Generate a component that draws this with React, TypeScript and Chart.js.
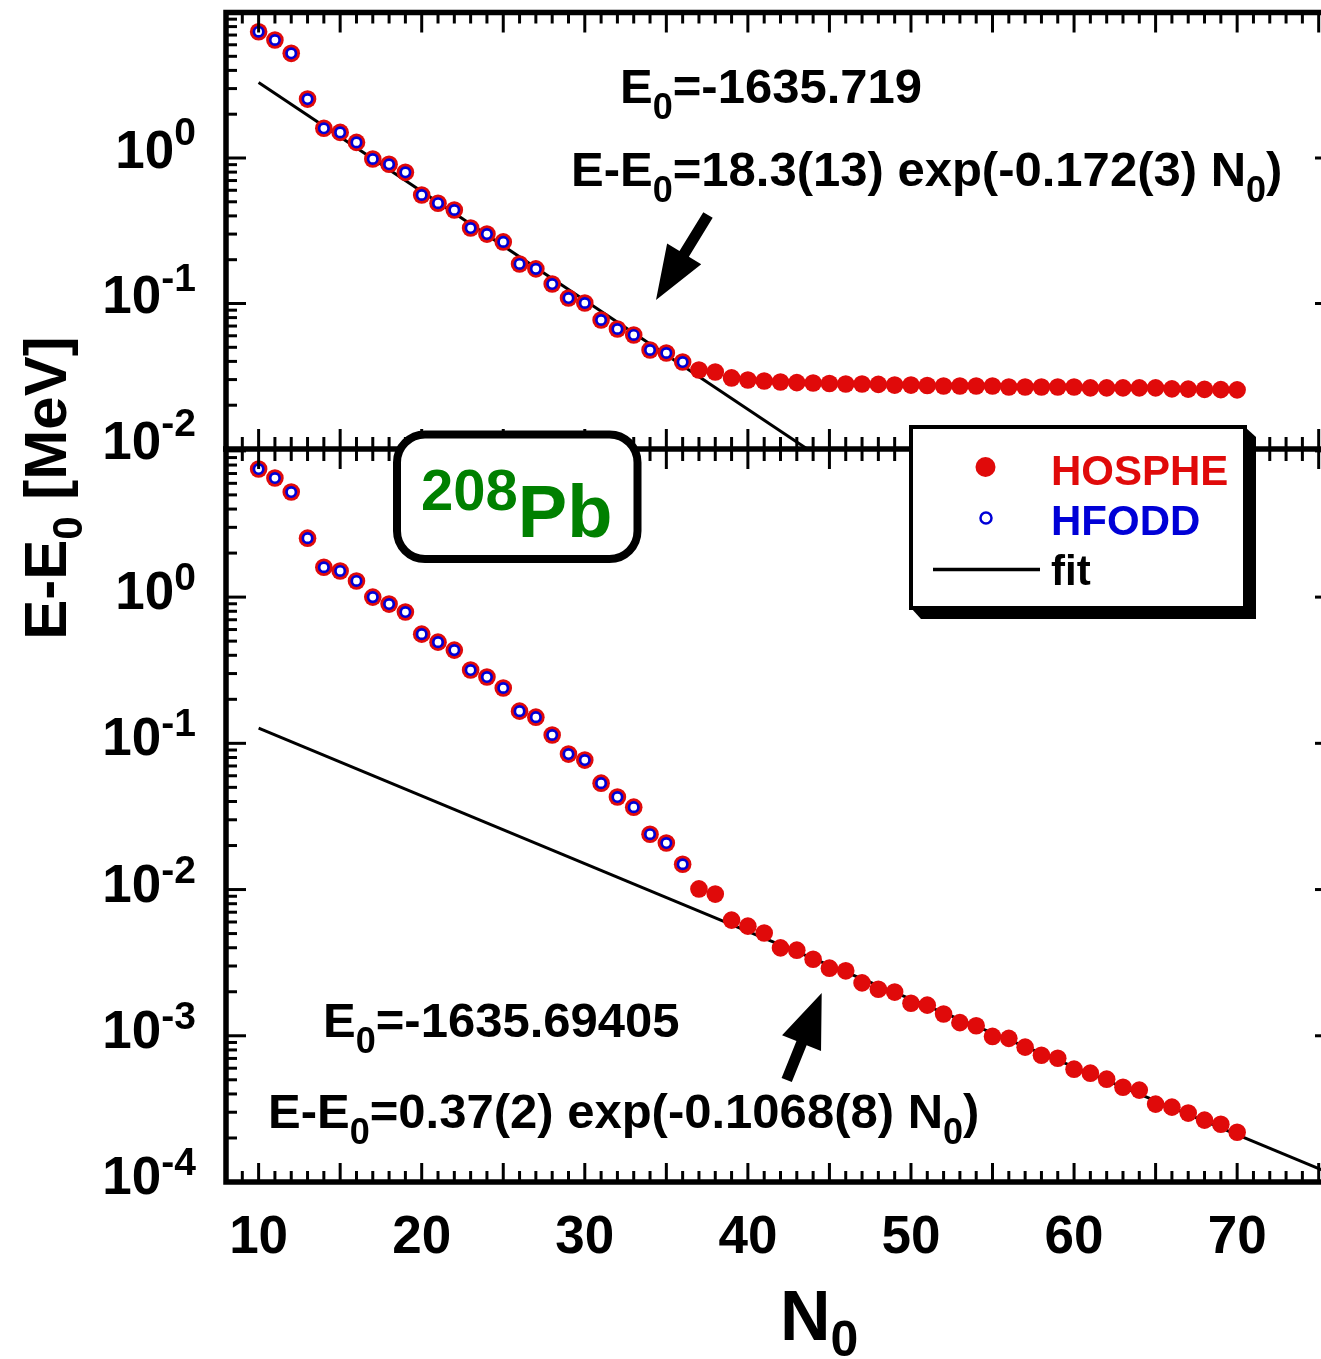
import React, { useEffect, useRef } from 'react';
import { Chart, registerables } from 'chart.js';

Chart.register(...registerables);

// ---------------- data ----------------
const N_HOSPHE = [
  10, 11, 12, 13, 14, 15, 16, 17, 18, 19, 20, 21, 22, 23, 24, 25, 26, 27, 28, 29, 30,
  31, 32, 33, 34, 35, 36, 37, 38, 39, 40, 41, 42, 43, 44, 45, 46, 47, 48, 49, 50,
  51, 52, 53, 54, 55, 56, 57, 58, 59, 60, 61, 62, 63, 64, 65, 66, 67, 68, 69, 70,
];
const N_HFODD = [
  10, 11, 12, 13, 14, 15, 16, 17, 18, 19, 20, 21, 22, 23, 24, 25, 26, 27, 28, 29, 30,
  31, 32, 33, 34, 35, 36,
];

// upper panel (E0 = -1635.719)
const TOP_HOSPHE = [
  7.38, 6.47, 5.24, 2.54, 1.60, 1.50, 1.28, 0.984, 0.905, 0.797, 0.557,
  0.489, 0.439, 0.330, 0.300, 0.265, 0.187, 0.173, 0.136, 0.109, 0.1008,
  0.0770, 0.0668, 0.0608, 0.0479, 0.0457, 0.0396, 0.0349, 0.0338, 0.0308, 0.0298,
  0.0293, 0.0289, 0.0286, 0.0284, 0.0282, 0.0280, 0.0280, 0.0278, 0.0275, 0.0275,
  0.0273, 0.0271, 0.0271, 0.0271, 0.0271, 0.0267, 0.0267, 0.0267, 0.0267, 0.0267,
  0.0263, 0.0263, 0.0263, 0.0263, 0.0263, 0.0259, 0.0258, 0.0257, 0.0256, 0.0255,
];
const TOP_HFODD = [
  7.38, 6.47, 5.24, 2.54, 1.60, 1.50, 1.28, 0.984, 0.905, 0.797, 0.557,
  0.489, 0.439, 0.330, 0.300, 0.265, 0.187, 0.173, 0.136, 0.109, 0.1008,
  0.0770, 0.0668, 0.0608, 0.0479, 0.0457, 0.0396,
];
const TOP_FIT_N = [10, 44];
const TOP_FIT_E = [3.3, 0.0094];

// lower panel (E0 = -1635.69405)
const BOT_HOSPHE = [
  7.51, 6.52, 5.23, 2.53, 1.60, 1.51, 1.29, 1.0, 0.896, 0.790, 0.558,
  0.492, 0.434, 0.317, 0.284, 0.239, 0.166, 0.151, 0.114, 0.0844, 0.0768,
  0.0534, 0.0429, 0.0366, 0.0239, 0.0208, 0.0149, 0.0101, 0.00931, 0.00618, 0.00562,
  0.00504, 0.00399, 0.00385, 0.00334, 0.00290, 0.00278, 0.00230, 0.00208, 0.00199, 0.00167,
  0.00162, 0.00141, 0.00123, 0.00117, 0.00099, 0.00096, 0.000836, 0.000736, 0.000702, 0.000591,
  0.000555, 0.000505, 0.000445, 0.000425, 0.000341, 0.000325, 0.000296, 0.000265, 0.000248, 0.000219,
];
const BOT_HFODD = [
  7.51, 6.52, 5.23, 2.53, 1.60, 1.51, 1.29, 1.0, 0.896, 0.790, 0.558,
  0.492, 0.434, 0.317, 0.284, 0.239, 0.166, 0.151, 0.114, 0.0844, 0.0768,
  0.0534, 0.0429, 0.0366, 0.0239, 0.0208, 0.0149,
];
const BOT_FIT_N = [10, 76];
const BOT_FIT_E = [0.127, 0.000111];

const X_TICK_LABELS = [10, 20, 30, 40, 50, 60, 70];
const TOP_Y_LABELS = [1, 0.1, 0.01];
const BOT_Y_LABELS = [1, 0.1, 0.01, 0.001, 0.0001];

// ---------------- style / layout ----------------
const CW = 1345;
const CH = 1359;
const LEFT = 226;
const RIGHT = 1335;
const TOP = 12.5;
const MID = 449;
const BOTTOM = 1182;
const RED = 'rgb(224,10,10)';
const BLUE = 'rgb(0,0,215)';
const GREEN = 'rgb(0,128,0)';
const FONT = '"Liberation Sans", Arial, Helvetica, sans-serif';

type Seg = { t: string; size: number; dy?: number; color?: string };

function drawSegs(
  ctx: CanvasRenderingContext2D,
  segs: Seg[],
  x: number,
  y: number,
  align: 'left' | 'right' | 'center',
  color: string
) {
  ctx.save();
  ctx.textBaseline = 'alphabetic';
  ctx.textAlign = 'left';
  const widths = segs.map((s) => {
    ctx.font = `bold ${s.size}px ${FONT}`;
    return ctx.measureText(s.t).width;
  });
  const total = widths.reduce((a, b) => a + b, 0);
  let cx = align === 'left' ? x : align === 'right' ? x - total : x - total / 2;
  segs.forEach((s, i) => {
    ctx.font = `bold ${s.size}px ${FONT}`;
    ctx.fillStyle = s.color || color;
    ctx.fillText(s.t, cx, y + (s.dy || 0));
    cx += widths[i];
  });
  ctx.restore();
}

function line(ctx: CanvasRenderingContext2D, x1: number, y1: number, x2: number, y2: number) {
  ctx.beginPath();
  ctx.moveTo(x1, y1);
  ctx.lineTo(x2, y2);
  ctx.stroke();
}

function drawArrow(
  ctx: CanvasRenderingContext2D,
  tail: [number, number],
  tip: [number, number],
  headLen: number,
  headHalf: number,
  shaft: number
) {
  const dx = tip[0] - tail[0];
  const dy = tip[1] - tail[1];
  const L = Math.hypot(dx, dy);
  const ux = dx / L;
  const uy = dy / L;
  const px = -uy;
  const py = ux;
  const bx = tip[0] - ux * headLen;
  const by = tip[1] - uy * headLen;
  ctx.save();
  ctx.fillStyle = '#000';
  ctx.beginPath();
  ctx.moveTo(tail[0] + (px * shaft) / 2, tail[1] + (py * shaft) / 2);
  ctx.lineTo(bx + (px * shaft) / 2, by + (py * shaft) / 2);
  ctx.lineTo(bx + px * headHalf, by + py * headHalf);
  ctx.lineTo(tip[0], tip[1]);
  ctx.lineTo(bx - px * headHalf, by - py * headHalf);
  ctx.lineTo(bx - (px * shaft) / 2, by - (py * shaft) / 2);
  ctx.lineTo(tail[0] - (px * shaft) / 2, tail[1] - (py * shaft) / 2);
  ctx.closePath();
  ctx.fill();
  ctx.restore();
}

function logTicks(ctx: CanvasRenderingContext2D, ys: any, xAxis: number, dir: number, major: number, minor: number, withMinor: boolean) {
  const min = ys.min;
  const max = ys.max;
  const e0 = Math.floor(Math.log10(min));
  const e1 = Math.ceil(Math.log10(max));
  for (let e = e0; e <= e1; e++) {
    for (let k = 1; k <= 9; k++) {
      if (k > 1 && !withMinor) continue;
      const v = k * Math.pow(10, e);
      if (v < min * 0.999 || v > max * 1.001) continue;
      const y = ys.getPixelForValue(v);
      line(ctx, xAxis, y, xAxis + dir * (k === 1 ? major : minor), y);
    }
  }
}

function linTicks(ctx: CanvasRenderingContext2D, xs: any, yAxis: number, dir: number, major: number, minor: number) {
  for (let n = Math.ceil(xs.min); n <= xs.max; n++) {
    const x = xs.getPixelForValue(n);
    line(ctx, x, yAxis, x, yAxis + dir * (n % 5 === 0 ? major : minor));
  }
}

function expLabel(v: number) {
  return String(Math.round(Math.log10(v)));
}

function yLabels(ctx: CanvasRenderingContext2D, ys: any, values: number[], dBase: number, dSup: number) {
  values.forEach((v) => {
    const y = ys.getPixelForValue(v);
    drawSegs(
      ctx,
      [
        { t: '10', size: 53 },
        { t: expLabel(v), size: 39, dy: dSup - dBase },
      ],
      196,
      y + dBase,
      'right',
      '#000'
    );
  });
}

function roundRect(ctx: CanvasRenderingContext2D, x: number, y: number, w: number, h: number, r: number) {
  ctx.beginPath();
  ctx.moveTo(x + r, y);
  ctx.lineTo(x + w - r, y);
  ctx.arcTo(x + w, y, x + w, y + r, r);
  ctx.lineTo(x + w, y + h - r);
  ctx.arcTo(x + w, y + h, x + w - r, y + h, r);
  ctx.lineTo(x + r, y + h);
  ctx.arcTo(x, y + h, x, y + h - r, r);
  ctx.lineTo(x, y + r);
  ctx.arcTo(x, y, x + r, y, r);
  ctx.closePath();
}

const topDecor = {
  id: 'topDecor',
  afterDraw(chart: any) {
    const ctx: CanvasRenderingContext2D = chart.ctx;
    const xs = chart.scales.x;
    const ys = chart.scales.y;
    ctx.save();
    ctx.strokeStyle = '#000';
    ctx.lineCap = 'butt';
    ctx.lineWidth = 3;
    logTicks(ctx, ys, LEFT, 1, 20, 11, true);
    logTicks(ctx, ys, RIGHT, -1, 20, 11, false);
    linTicks(ctx, xs, TOP, 1, 20, 11);
    linTicks(ctx, xs, MID, -1, 20, 12);
    ctx.lineWidth = 5.5;
    ctx.lineCap = 'square';
    ctx.beginPath();
    ctx.moveTo(LEFT, MID);
    ctx.lineTo(LEFT, TOP);
    ctx.lineTo(RIGHT, TOP);
    ctx.lineTo(RIGHT, MID);
    ctx.stroke();
    ctx.restore();

    yLabels(ctx, ys, TOP_Y_LABELS, 9.5, -13);

    drawSegs(ctx, [{ t: 'E', size: 49 }, { t: '0', size: 36, dy: 16 }, { t: '=-1635.719', size: 49 }], 620, 103, 'left', '#000');
    drawSegs(
      ctx,
      [
        { t: 'E-E', size: 49 },
        { t: '0', size: 36, dy: 16 },
        { t: '=18.3(13) exp(-0.172(3) N', size: 49 },
        { t: '0', size: 36, dy: 16 },
        { t: ')', size: 49 },
      ],
      571,
      186,
      'left',
      '#000'
    );
    drawArrow(ctx, [708, 215], [656, 300], 54, 20, 11);
  },
};

const botDecor = {
  id: 'botDecor',
  afterDraw(chart: any) {
    const ctx: CanvasRenderingContext2D = chart.ctx;
    const xs = chart.scales.x;
    const ys = chart.scales.y;
    ctx.save();
    ctx.strokeStyle = '#000';
    ctx.lineCap = 'butt';
    ctx.lineWidth = 3;
    logTicks(ctx, ys, LEFT, 1, 20, 11, true);
    logTicks(ctx, ys, RIGHT, -1, 20, 11, false);
    linTicks(ctx, xs, MID, 1, 20, 12);
    linTicks(ctx, xs, BOTTOM, -1, 19, 11);
    ctx.lineWidth = 5.5;
    ctx.lineCap = 'square';
    ctx.beginPath();
    ctx.moveTo(LEFT, MID);
    ctx.lineTo(LEFT, BOTTOM);
    ctx.lineTo(RIGHT, BOTTOM);
    ctx.lineTo(RIGHT, MID);
    ctx.stroke();
    line(ctx, LEFT, MID, RIGHT, MID);
    ctx.restore();

    yLabels(ctx, ys, BOT_Y_LABELS, 12, -7);

    // x tick labels
    X_TICK_LABELS.forEach((n) => {
      drawSegs(ctx, [{ t: String(n), size: 53 }], xs.getPixelForValue(n), 1253, 'center', '#000');
    });

    // axis titles
    drawSegs(ctx, [{ t: 'N', size: 70 }, { t: '0', size: 50, dy: 16 }], 780, 1340, 'left', '#000');
    ctx.save();
    ctx.translate(66, 488);
    ctx.rotate(-Math.PI / 2);
    drawSegs(ctx, [{ t: 'E-E', size: 60 }, { t: '0', size: 42, dy: 16 }, { t: ' [MeV]', size: 60 }], 0, 0, 'center', '#000');
    ctx.restore();

    // annotations
    drawSegs(ctx, [{ t: 'E', size: 49 }, { t: '0', size: 36, dy: 16 }, { t: '=-1635.69405', size: 49 }], 323, 1037, 'left', '#000');
    drawSegs(
      ctx,
      [
        { t: 'E-E', size: 49 },
        { t: '0', size: 36, dy: 16 },
        { t: '=0.37(2) exp(-0.1068(8) N', size: 49 },
        { t: '0', size: 36, dy: 16 },
        { t: ')', size: 49 },
      ],
      268,
      1128,
      'left',
      '#000'
    );
    drawArrow(ctx, [786.7, 1080], [821.7, 993], 54, 21, 11);

    // 208Pb box
    ctx.save();
    roundRect(ctx, 397, 434.5, 240.5, 124.5, 28);
    ctx.fillStyle = '#fff';
    ctx.fill();
    ctx.lineWidth = 8;
    ctx.strokeStyle = '#000';
    ctx.stroke();
    ctx.restore();
    drawSegs(ctx, [{ t: '208', size: 58, dy: -27 }, { t: 'Pb', size: 74 }], 421, 537, 'left', GREEN);

    // legend with shadow
    ctx.save();
    ctx.fillStyle = '#000';
    ctx.beginPath();
    ctx.moveTo(1245, 427);
    ctx.lineTo(1256, 437);
    ctx.lineTo(1256, 619);
    ctx.lineTo(921, 619);
    ctx.lineTo(911, 608);
    ctx.closePath();
    ctx.fill();
    ctx.fillStyle = '#fff';
    ctx.fillRect(911, 427, 334, 181);
    ctx.lineWidth = 4;
    ctx.strokeStyle = '#000';
    ctx.strokeRect(911, 427, 334, 181);
    ctx.fillStyle = RED;
    ctx.beginPath();
    ctx.arc(985.5, 467, 10, 0, Math.PI * 2);
    ctx.fill();
    ctx.fillStyle = '#fff';
    ctx.strokeStyle = BLUE;
    ctx.lineWidth = 2.5;
    ctx.beginPath();
    ctx.arc(986, 518, 5.5, 0, Math.PI * 2);
    ctx.fill();
    ctx.stroke();
    ctx.strokeStyle = '#000';
    ctx.lineWidth = 3.5;
    line(ctx, 933, 569.5, 1040, 569.5);
    ctx.restore();
    drawSegs(ctx, [{ t: 'HOSPHE', size: 42 }], 1051, 485, 'left', RED);
    drawSegs(ctx, [{ t: 'HFODD', size: 42 }], 1051, 535, 'left', BLUE);
    drawSegs(ctx, [{ t: 'fit', size: 42 }], 1051, 585, 'left', '#000');
  },
};

function pts(xs: number[], ys: number[]) {
  return xs.map((x, i) => ({ x, y: ys[i] }));
}

function makeConfig(
  hosphe: number[],
  hfodd: number[],
  fitN: number[],
  fitE: number[],
  yMin: number,
  yMax: number,
  padTop: number,
  padBottom: number,
  decor: any
): any {
  return {
    type: 'scatter',
    data: {
      datasets: [
        {
          label: 'HFODD',
          data: pts(N_HFODD, hfodd),
          pointRadius: 4.7,
          pointBorderWidth: 2.7,
          pointBackgroundColor: '#fff',
          pointBorderColor: BLUE,
          backgroundColor: '#fff',
          borderColor: BLUE,
          order: 0,
        },
        {
          label: 'HOSPHE',
          data: pts(N_HOSPHE, hosphe),
          pointRadius: 8.8,
          pointBorderWidth: 0,
          pointBackgroundColor: RED,
          pointBorderColor: RED,
          backgroundColor: RED,
          borderColor: RED,
          order: 1,
        },
        {
          label: 'fit',
          data: pts(fitN, fitE),
          showLine: true,
          pointRadius: 0,
          borderColor: '#000',
          borderWidth: 3,
          order: 2,
        },
      ],
    },
    options: {
      responsive: false,
      animation: false,
      events: [],
      layout: { padding: { left: LEFT, right: CW - RIGHT, top: padTop, bottom: padBottom } },
      plugins: { legend: { display: false }, tooltip: { enabled: false } },
      scales: {
        x: { type: 'linear', min: 8, max: 76, display: false },
        y: { type: 'logarithmic', min: yMin, max: yMax, display: false },
      },
    },
    plugins: [decor],
  };
}

export default function App() {
  const topRef = useRef<HTMLCanvasElement>(null);
  const botRef = useRef<HTMLCanvasElement>(null);
  useEffect(() => {
    const c1 = new Chart(
      topRef.current as HTMLCanvasElement,
      makeConfig(TOP_HOSPHE, TOP_HFODD, TOP_FIT_N, TOP_FIT_E, 0.01, 10, TOP, CH - MID, topDecor)
    );
    const c2 = new Chart(
      botRef.current as HTMLCanvasElement,
      makeConfig(BOT_HOSPHE, BOT_HFODD, BOT_FIT_N, BOT_FIT_E, 0.0001, 10.3, MID, CH - BOTTOM, botDecor)
    );
    return () => {
      c1.destroy();
      c2.destroy();
    };
  }, []);
  return (
    <div
      style={{
        position: 'absolute',
        left: 0,
        top: 0,
        width: 1321,
        height: 1359,
        overflow: 'hidden',
        background: '#fff',
      }}
    >
      <canvas ref={topRef} width={CW} height={CH} style={{ position: 'absolute', left: 0, top: 0 }} />
      <canvas ref={botRef} width={CW} height={CH} style={{ position: 'absolute', left: 0, top: 0 }} />
    </div>
  );
}
